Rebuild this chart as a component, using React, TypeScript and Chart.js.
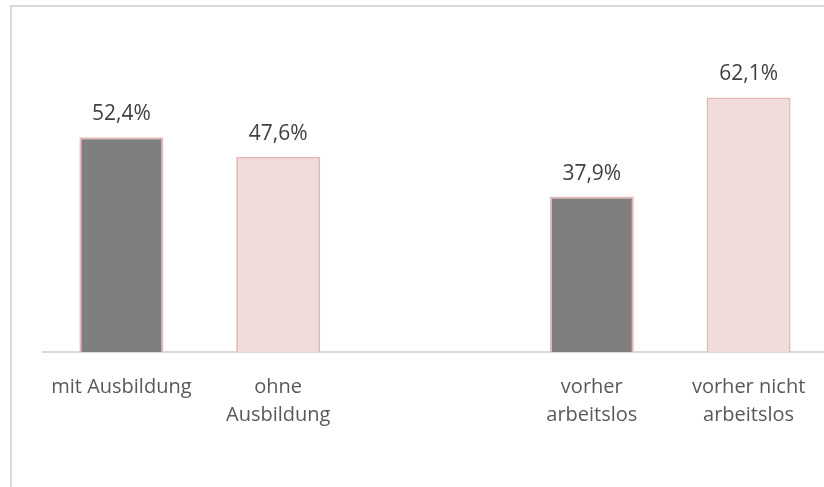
import React, { useEffect, useRef } from "react";
import { Chart, registerables } from "chart.js";

Chart.register(...registerables);

const categories: (string | string[])[] = [
  "mit Ausbildung",
  ["ohne", "Ausbildung"],
  "",
  ["vorher", "arbeitslos"],
  ["vorher nicht", "arbeitslos"],
];
const values: (number | null)[] = [52.4, 47.6, null, 37.9, 62.1];
const fillColors = ["#7f7f7f", "#f2dcdb", "#ffffff", "#7f7f7f", "#f2dcdb"];
const borderColor = "#e6b9b8";

const fmt = (v: number) => v.toFixed(1).replace(".", ",") + "%";

const dataLabelPlugin = {
  id: "dataLabels",
  afterDatasetsDraw(chart: any) {
    const ctx = chart.ctx;
    const meta = chart.getDatasetMeta(0);
    ctx.save();
    ctx.font = "21px 'Open Sans'";
    ctx.fillStyle = "#404040";
    ctx.textAlign = "center";
    ctx.textBaseline = "middle";
    meta.data.forEach((el: any, i: number) => {
      const v = values[i];
      if (v == null) return;
      ctx.fillText(fmt(v), el.x, el.y - 23);
    });
    ctx.restore();
  },
};

export default function App() {
  const ref = useRef<HTMLCanvasElement>(null);
  useEffect(() => {
    if (!ref.current) return;
    const chart = new Chart(ref.current, {
      type: "bar",
      data: {
        labels: categories,
        datasets: [
          {
            data: values,
            backgroundColor: fillColors,
            borderColor: borderColor,
            borderWidth: 2,
            categoryPercentage: 1,
            barPercentage: 0.536,
          },
        ],
      },
      options: {
        responsive: false,
        animation: false,
        devicePixelRatio: 1,
        layout: { padding: { left: 43, right: 13, top: 65, bottom: 0 } },
        plugins: {
          legend: { display: false },
          tooltip: { enabled: false },
        },
        scales: {
          y: { display: false, min: 0, max: 70 },
          x: {
            grid: { display: false, drawTicks: false },
            border: { display: true, color: "#d9d9d9", width: 2 },
            ticks: {
              color: "#595959",
              font: { family: "'Open Sans'", size: 20, lineHeight: 1.4 },
              padding: 21,
              maxRotation: 0,
              autoSkip: false,
            },
            afterFit: (scale: any) => {
              scale.height = 135;
            },
          },
        },
      },
      plugins: [dataLabelPlugin],
    });
    return () => chart.destroy();
  }, []);

  return (
    <div
      style={{
        position: "fixed",
        left: 0,
        top: 0,
        width: 824,
        height: 487,
        overflow: "hidden",
        background: "#ffffff",
      }}
    >
      <div
        style={{
          position: "absolute",
          left: 10,
          top: 5,
          width: 900,
          height: 600,
          borderTop: "2px solid #d9d9d9",
          borderLeft: "2px solid #d9d9d9",
        }}
      />
      <canvas
        ref={ref}
        width={840}
        height={487}
        style={{ position: "absolute", left: 0, top: 0, width: 840, height: 487 }}
      />
    </div>
  );
}
